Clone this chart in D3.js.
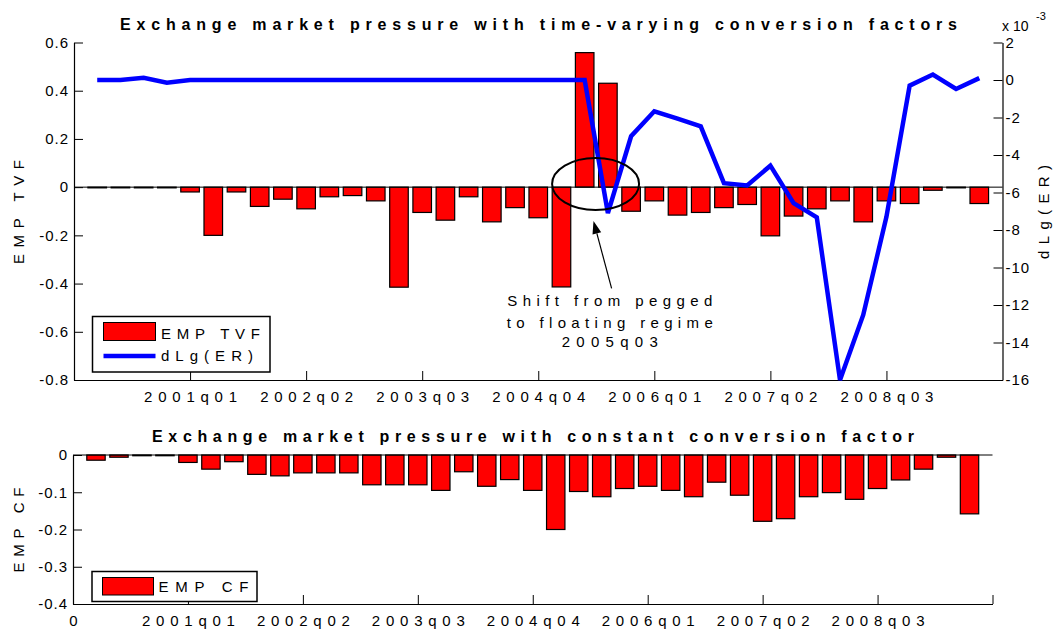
<!DOCTYPE html>
<html><head><meta charset="utf-8">
<script src="https://cdn.jsdelivr.net/npm/d3@7"></script>
<style>
body{margin:0;background:#fff}
text{font-family:"Liberation Sans",Arial,Helvetica,sans-serif;fill:#000}
</style>
</head><body>
<svg id="c" width="1054" height="630"></svg>
<script>
// ---------------- DATA ----------------
const quarters = d3.range(1, 40); // 1..39 (2000q01 .. 2009q03)
const empTVF = [-0.003,-0.003,-0.003,-0.003,-0.02,-0.2,-0.02,-0.08,-0.05,-0.09,
  -0.04,-0.035,-0.057,-0.415,-0.105,-0.137,-0.04,-0.144,-0.085,-0.127,
  -0.414,0.558,0.431,-0.1,-0.057,-0.116,-0.105,-0.085,-0.072,-0.202,
  -0.12,-0.09,-0.057,-0.144,-0.057,-0.068,-0.013,-0.003,-0.068];
const dLgER = [0,0,0.12,-0.14,0, 0,0,0,0,0,0,0,0,0,0,0,0,0,0,0,0,0,
  -7.1,-3.0,-1.67,-2.06,-2.47,-5.5,-5.62,-4.57,-6.57,-7.33,-16,-12.53,-7.3,-0.3,0.29,-0.48,0.1];
const empCF = [-0.014,-0.006,-0.002,-0.002,-0.02,-0.038,-0.018,-0.052,-0.056,-0.048,
  -0.048,-0.048,-0.08,-0.08,-0.08,-0.095,-0.045,-0.084,-0.066,-0.095,
  -0.2,-0.098,-0.112,-0.09,-0.084,-0.095,-0.112,-0.073,-0.108,-0.178,
  -0.171,-0.112,-0.101,-0.119,-0.09,-0.067,-0.038,-0.006,-0.158];
const topXTicks = [5,10,15,20,25,30,35];
const topXLabels = ["2001q01","2002q02","2003q03","2004q04","2006q01","2007q02","2008q03"];
const botXTicks = [0,5,10,15,20,25,30,35,40];
const botXLabels = ["0","2001q01","2002q02","2003q03","2004q04","2006q01","2007q02","2008q03",""];
const leftTicks = [-0.8,-0.6,-0.4,-0.2,0,0.2,0.4,0.6];
const rightTicks = [-16,-14,-12,-10,-8,-6,-4,-2,0,2];
const botYTicks = [-0.4,-0.3,-0.2,-0.1,0];
const title1 = "Exchange market pressure with time-varying conversion factors";
const title2 = "Exchange market pressure with constant conversion factor";
const annotLines = ["Shift from pegged","to floating regime","2005q03"];
// annotation anchor points in data units (x quarter, y EMP)
const annotEllipse = {cx:22.47, cy:0.013, rx:1.874, ry:0.108};
const annotArrow = {x1:23.16, y1:-0.42, x2:22.38, y2:-0.14};
const annotTextX = 23.08;

// ---------------- SCALES ----------------
const svg = d3.select("#c");
const xTop = d3.scaleLinear().domain([0,40]).range([74,1002.5]);
const yTop = d3.scaleLinear().domain([-0.8,0.6]).range([380,42.5]);
const yRight = d3.scaleLinear().domain([-16,2]).range([380,42.5]);
const xBot = d3.scaleLinear().domain([0,40]).range([73,992.5]);
const yBot = d3.scaleLinear().domain([-0.4,0]).range([604,455]);
const barFrac = 0.8;

function styleAxis(g){
  g.select(".domain").attr("stroke","#000").attr("stroke-width",1.2);
  g.selectAll(".tick line").attr("stroke","#000").attr("stroke-width",1);
  g.selectAll(".tick text").attr("font-size",15).attr("letter-spacing",1).attr("fill","#000")
    .attr("font-family",'"Liberation Sans",Arial,sans-serif');
}
function styleXAxis(g){
  styleAxis(g);
  g.selectAll(".tick text").attr("y",22).attr("dy",0).attr("letter-spacing",0)
    .each(function(){ const t=d3.select(this); if(t.text().length>1) t.attr("textLength",93).attr("lengthAdjust","spacing"); });
}

// ---------------- TOP PANEL ----------------
const bwTop = (xTop(1)-xTop(0))*barFrac;
svg.append("g").selectAll("rect").data(quarters).join("rect")
  .attr("x", d=>xTop(d)-bwTop/2)
  .attr("y", (d,i)=>yTop(Math.max(0,empTVF[i])))
  .attr("width", bwTop)
  .attr("height", (d,i)=>Math.abs(yTop(empTVF[i])-yTop(0)))
  .attr("fill","#ff0000").attr("stroke","#000").attr("stroke-width",1.2);
// baseline
svg.append("line").attr("x1",xTop(0)).attr("x2",xTop(40)).attr("y1",yTop(0)).attr("y2",yTop(0))
  .attr("stroke","#000").attr("stroke-width",1);

// axes
svg.append("g").attr("transform",`translate(${xTop(0)},0)`)
  .call(d3.axisLeft(yTop).tickValues(leftTicks).tickFormat(d=>String(+d.toFixed(1))).tickSize(-9).tickSizeOuter(0).tickPadding(5))
  .call(styleAxis);
svg.append("g").attr("transform",`translate(${xTop(40)},0)`)
  .call(d3.axisRight(yRight).tickValues(rightTicks).tickFormat(d=>String(d)).tickSize(-9).tickSizeOuter(0).tickPadding(3))
  .call(styleAxis);
svg.append("g").attr("transform",`translate(0,${yTop(-0.8)})`)
  .call(d3.axisBottom(xTop).tickValues(topXTicks).tickFormat((d,i)=>topXLabels[i]).tickSize(-9).tickSizeOuter(0))
  .call(styleXAxis);

// line
svg.append("path").datum(quarters)
  .attr("d", d3.line().x(d=>xTop(d)).y((d,i)=>yRight(dLgER[i])))
  .attr("fill","none").attr("stroke","#0000ff").attr("stroke-width",4.5).attr("stroke-linejoin","miter");

// annotation
svg.append("ellipse")
  .attr("cx",xTop(annotEllipse.cx)).attr("cy",yTop(annotEllipse.cy))
  .attr("rx",xTop(annotEllipse.rx)-xTop(0)).attr("ry",yTop(0)-yTop(annotEllipse.ry))
  .attr("fill","none").attr("stroke","#000").attr("stroke-width",2);
const ax1=xTop(annotArrow.x1), ay1=yTop(annotArrow.y1), ax2=xTop(annotArrow.x2), ay2=yTop(annotArrow.y2);
const ang=Math.atan2(ay2-ay1, ax2-ax1), hl=13, hw=4.5;
const bx=ax2-hl*Math.cos(ang), by=ay2-hl*Math.sin(ang);
svg.append("line").attr("x1",ax1).attr("y1",ay1).attr("x2",bx).attr("y2",by).attr("stroke","#000").attr("stroke-width",1.2);
svg.append("path").attr("d",`M${ax2},${ay2}L${bx+hw*Math.sin(ang)},${by-hw*Math.cos(ang)}L${bx-hw*Math.sin(ang)},${by+hw*Math.cos(ang)}Z`).attr("fill","#000");
const annBase=[306,327.5,347], annLen=[205,206,96];
annotLines.forEach((s,i)=>{
  svg.append("text").attr("x",xTop(annotTextX)).attr("y",annBase[i]).attr("text-anchor","middle")
    .attr("font-size",15).attr("textLength",annLen[i]).attr("lengthAdjust","spacing").text(s);
});

// titles & labels
svg.append("text").attr("x",120).attr("y",30).attr("font-size",16).attr("font-weight","bold")
  .attr("textLength",837).attr("lengthAdjust","spacing").text(title1);
svg.append("text").attr("transform","translate(18,212) rotate(-90)").attr("text-anchor","middle")
  .attr("dominant-baseline","central").attr("font-size",15).attr("textLength",104).attr("lengthAdjust","spacing").text("EMP TVF");
svg.append("text").attr("transform","translate(1043,212) rotate(-90)").attr("text-anchor","middle")
  .attr("dominant-baseline","central").attr("font-size",15).attr("textLength",94).attr("lengthAdjust","spacing").text("dLg(ER)");
svg.append("text").attr("x",1002).attr("y",31).attr("font-size",14).text("x 10");
svg.append("text").attr("x",1036).attr("y",20).attr("font-size",11).text("-3");

// legend top
svg.append("rect").attr("x",92.5).attr("y",316.5).attr("width",177.5).attr("height",55.5)
  .attr("fill","#fff").attr("stroke","#000").attr("stroke-width",1.5);
svg.append("rect").attr("x",103.5).attr("y",322.5).attr("width",52).attr("height",18)
  .attr("fill","#ff0000").attr("stroke","#000").attr("stroke-width",1);
svg.append("text").attr("x",161).attr("y",339).attr("font-size",15).attr("textLength",99).attr("lengthAdjust","spacing").text("EMP TVF");
svg.append("line").attr("x1",103.5).attr("x2",155.5).attr("y1",356).attr("y2",356).attr("stroke","#0000ff").attr("stroke-width",4.5);
svg.append("text").attr("x",161).attr("y",361).attr("font-size",15).attr("textLength",92).attr("lengthAdjust","spacing").text("dLg(ER)");

// ---------------- BOTTOM PANEL ----------------
const bwBot = (xBot(1)-xBot(0))*barFrac;
svg.append("g").selectAll("rect").data(quarters).join("rect")
  .attr("x", d=>xBot(d)-bwBot/2)
  .attr("y", yBot(0))
  .attr("width", bwBot)
  .attr("height", (d,i)=>Math.abs(yBot(empCF[i])-yBot(0)))
  .attr("fill","#ff0000").attr("stroke","#000").attr("stroke-width",1.2);
svg.append("line").attr("x1",xBot(0)).attr("x2",xBot(40)).attr("y1",yBot(0)).attr("y2",yBot(0))
  .attr("stroke","#000").attr("stroke-width",1);
svg.append("g").attr("transform",`translate(${xBot(0)},0)`)
  .call(d3.axisLeft(yBot).tickValues(botYTicks).tickFormat(d=>String(+d.toFixed(1))).tickSize(-9).tickSizeOuter(0).tickPadding(5))
  .call(styleAxis);
svg.append("g").attr("transform",`translate(0,${yBot(-0.4)})`)
  .call(d3.axisBottom(xBot).tickValues(botXTicks).tickFormat((d,i)=>botXLabels[i]).tickSize(-9).tickSizeOuter(0))
  .call(styleXAxis);

svg.append("text").attr("x",152).attr("y",442).attr("font-size",16).attr("font-weight","bold")
  .attr("textLength",762).attr("lengthAdjust","spacing").text(title2);
svg.append("text").attr("transform","translate(18,530) rotate(-90)").attr("text-anchor","middle")
  .attr("dominant-baseline","central").attr("font-size",15).attr("textLength",85).attr("lengthAdjust","spacing").text("EMP CF");

// legend bottom
svg.append("rect").attr("x",92).attr("y",571.5).attr("width",165).attr("height",30)
  .attr("fill","#fff").attr("stroke","#000").attr("stroke-width",1.5);
svg.append("rect").attr("x",102.5).attr("y",577.5).attr("width",51).attr("height",17.5)
  .attr("fill","#ff0000").attr("stroke","#000").attr("stroke-width",1);
svg.append("text").attr("x",158.5).attr("y",592).attr("font-size",15).attr("textLength",90).attr("lengthAdjust","spacing").text("EMP CF");
</script>
</body></html>
